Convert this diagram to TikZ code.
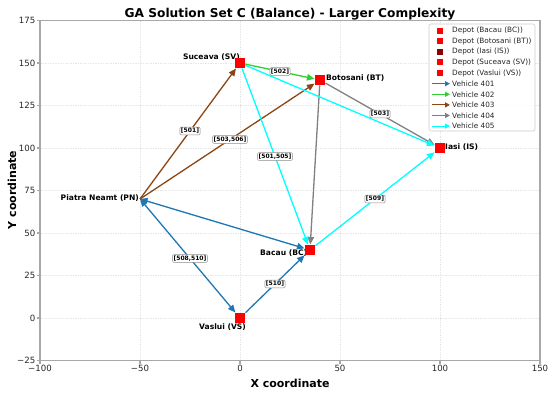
\documentclass[tikz,border=0pt]{standalone}
\usepackage{fontspec}
\setmainfont{DejaVu Sans}
\usetikzlibrary{arrows.meta,calc}
\definecolor{cblue}{HTML}{1F77B4}
\definecolor{cgreen}{HTML}{32CD32}
\definecolor{cbrown}{HTML}{8B4513}
\definecolor{cgray}{HTML}{808080}
\definecolor{ccyan}{HTML}{00FFFF}
\definecolor{dred}{HTML}{FF0000}
\definecolor{ddark}{HTML}{8B0000}
\definecolor{spinec}{HTML}{A8A8A8}
\definecolor{gridc}{HTML}{E6E6E6}
\begin{document}
\begin{tikzpicture}[x=1pt,y=1pt,
  lbl/.style={draw=black!45, fill=white, rounded corners=1.2pt, inner sep=1.1pt, line width=0.5pt, font=\fontsize{6}{7}\selectfont\bfseries},
  city/.style={font=\fontsize{7.6}{9}\selectfont\bfseries, inner sep=0pt},
  depot/.style={rectangle, minimum size=9pt, inner sep=0pt, outer sep=1pt},
  tipend/.style={-{Triangle[length=7.5pt,width=6.5pt]}},
  tipboth/.style={{Triangle[length=7.5pt,width=6.5pt]}-{Triangle[length=7.5pt,width=6.5pt]}},
  edge/.style={line width=1.3pt},
  gridl/.style={gridc, line width=0.7pt, dash pattern=on 1.5pt off 1pt},
  spine/.style={spinec, line width=1.3pt},
  ticklbl/.style={font=\fontsize{8.6}{10}\selectfont, text=black!85, inner sep=0pt},
  legtxt/.style={font=\fontsize{7.3}{8.5}\selectfont, inner sep=0pt, anchor=west, text=black!85},
  legarrow/.style={line width=1.2pt, -{Triangle[length=5pt,width=5pt]}}
  ]
\useasboundingbox (0,0) rectangle (550,392);
\begin{scope}[shift={(240,74)}, x=2pt, y=1.7pt]
  % grid
  \foreach \gx in {-50,0,50,100} \draw[gridl] (\gx,-25) -- (\gx,175);
  \foreach \gy in {0,25,...,150} \draw[gridl] (-100,\gy) -- (150,\gy);
  % ticks and tick labels
  \foreach \gx/\t in {-100/−100,-50/−50,0/0,50/50,100/100,150/150} {
    \draw[spine] (\gx,-25) -- ++(0pt,-3.5pt);
    \node[ticklbl, anchor=north] at ($(\gx,-25)+(0pt,-4.5pt)$) {\t};
  }
  \foreach \gy/\t in {-25/−25,0/0,25/25,50/50,75/75,100/100,125/125,150/150,175/175} {
    \draw[spine] (-100,\gy) -- ++(-3.5pt,0pt);
    \node[ticklbl, anchor=east] at ($(-100,\gy)+(-4.5pt,0pt)$) {\t};
  }
  \draw[spine] (-100,-25) rectangle (150,175);
  % city positions
  \node[depot] (SV) at (0,150) {};
  \node[depot] (BT) at (40,140) {};
  \node[depot] (IS) at (100,100) {};
  \node[depot] (BC) at (35,40) {};
  \node[depot] (VS) at (0,0) {};
  \coordinate (PN) at (-50,70);
\end{scope}

% city labels
\node[city, anchor=east] (tSV) at (240,335) {Suceava (SV)};
\node[city, anchor=west] (tBT) at (326,313.5) {Botosani (BT)};
\node[city, anchor=west] (tIS) at (445,245) {Iasi (IS)};
\node[city, anchor=west] (tBC) at (260,139) {Bacau (BC)};
\node[city, anchor=west] (tPN) at (60.5,194.3) {Piatra Neamt (PN)};
\node[city, anchor=west] (tVS) at (199,64.5) {Vaslui (VS)};

% routes
\draw[edge, cblue, tipboth] (PN) -- (BC);
\draw[edge, cblue, tipboth] (PN) -- (VS);
\draw[edge, cblue, tipend] (VS) -- (BC);
\draw[edge, cgreen, tipend] (SV) -- (BT);
\draw[edge, cbrown, tipend] (PN) -- (SV);
\draw[edge, cbrown, tipend] (PN) -- (BT);
\draw[edge, cgray, tipend] (BT) -- (IS);
\draw[edge, cgray, tipend] (BT) -- (BC);
\draw[edge, ccyan, tipend] (SV) -- (IS);
\draw[edge, ccyan, tipend] (SV) -- (BC);
\draw[edge, ccyan, tipend] (BC) -- (IS);

% depot markers
\foreach \d in {SV,BT,IS,BC,VS}
  \fill[dred] ($(\d.center)+(-4.7pt,-4.7pt)$) rectangle ($(\d.center)+(4.7pt,4.7pt)$);

% route labels
\node[lbl] (l502) at ($(SV)!0.5!(BT)$) {[502]};
\node[lbl] (l503) at ($(BT)!0.5!(IS)$) {[503]};
\node[lbl] (l501) at ($(PN)!0.5!(SV)$) {[501]};
\node[lbl] (l503506) at ($(PN)!0.5!(BT)$) {[503,506]};
\node[lbl] (l501505) at ($(SV)!0.5!(BC)$) {[501,505]};
\node[lbl] (l509) at ($(BC)!0.5!(IS)$) {[509]};
\node[lbl] (l508510) at ($(PN)!0.5!(VS)$) {[508,510]};
\node[lbl] (l510) at ($(VS)!0.5!(BC)$) {[510]};

% legend
\draw[draw=black!20, fill=white, fill opacity=0.85, rounded corners=2pt, line width=0.6pt] (429,368) rectangle (535,261);
\foreach \i/\c/\t in {0/dred/{Depot (Bacau (BC))},1/dred/{Depot (Botosani (BT))},2/ddark/{Depot (Iasi (IS))},3/dred/{Depot (Suceava (SV))},4/dred/{Depot (Vaslui (VS))}} {
  \fill[\c] (437,{361.3-10.6*\i-3}) rectangle (443,{361.3-10.6*\i+3});
  \node[legtxt] (lg\i) at (452,{361.3-10.6*\i}) {\t};
}
\foreach \i/\c/\t in {5/cblue/{Vehicle 401},6/cgreen/{Vehicle 402},7/cbrown/{Vehicle 403},8/cgray/{Vehicle 404},9/ccyan/{Vehicle 405}} {
  \coordinate (la\i) at (432,{361.3-10.6*\i});
  \coordinate (lb\i) at (450,{361.3-10.6*\i});
  \draw[legarrow, \c] (la\i) -- (lb\i);
  \node[legtxt] (lg\i) at (452,{361.3-10.6*\i}) {\t};
}

% titles
\node[font=\fontsize{12.2}{14}\selectfont\bfseries] (title) at (290,378) {GA Solution Set C (Balance) - Larger Complexity};
\node[font=\fontsize{11}{13}\selectfont\bfseries] (xlabel) at (290,9) {X coordinate};
\node[font=\fontsize{11}{13}\selectfont\bfseries, rotate=90] (ylabel) at (12,202) {Y coordinate};
\end{tikzpicture}
\end{document}
